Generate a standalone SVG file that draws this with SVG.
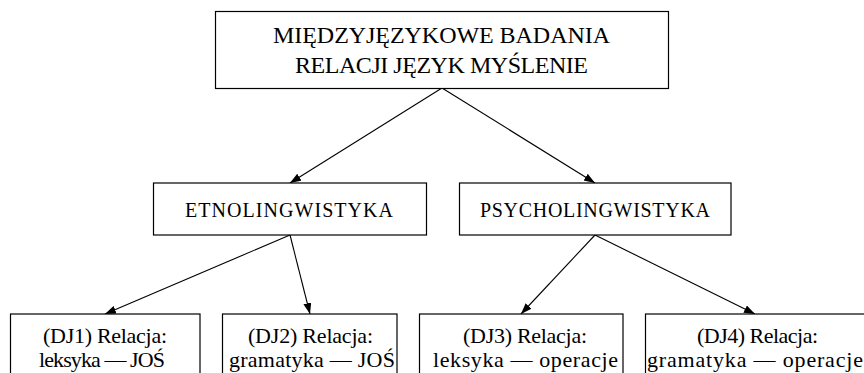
<svg xmlns="http://www.w3.org/2000/svg" width="864" height="373" viewBox="0 0 864 373">
<style>
.box { fill: #fff; stroke: #000; stroke-width: 1.2; }
text { font-family: 'Liberation Serif', 'DejaVu Serif', 'Times New Roman', serif; fill: #000; }
.t { font-size: 24px; }
.m { font-size: 20px; }
.b { font-size: 22px; }
.c { stroke: #000; stroke-width: 1.1; fill: none; marker-end: url(#ah); }
</style>
<defs>
<marker id="ah" markerUnits="userSpaceOnUse" markerWidth="12" markerHeight="9" refX="11" refY="4" orient="auto">
<path d="M0,0 L11,4 L0,8 z" fill="#000"/>
</marker>
</defs>
<rect width="864" height="373" fill="#fff"/>
<g id="connectors">
<line class="c" x1="442" y1="88" x2="290" y2="183"/>
<line class="c" x1="442" y1="88" x2="595" y2="183"/>
<line class="c" x1="290" y1="235" x2="105" y2="314"/>
<line class="c" x1="290" y1="235" x2="310" y2="314"/>
<line class="c" x1="595" y1="235" x2="521" y2="314"/>
<line class="c" x1="595" y1="235" x2="755" y2="314"/>
</g>
<g id="top" font-family="Liberation Serif, serif">
<rect class="box" x="215.5" y="11.5" width="453" height="77"/>
<text class="t" x="273" y="43" textLength="337">MIĘDZYJĘZYKOWE BADANIA</text>
<text class="t" x="295" y="73" textLength="293">RELACJI JĘZYK MYŚLENIE</text>
</g>
<g id="etno">
<rect class="box" x="153.5" y="183" width="273" height="52"/>
<text class="m" x="185" y="216.5" textLength="208">ETNOLINGWISTYKA</text>
</g>
<g id="psycho">
<rect class="box" x="459.5" y="183" width="271.5" height="52"/>
<text class="m" x="480" y="216.5" textLength="230">PSYCHOLINGWISTYKA</text>
</g>
<g id="dj1">
<rect class="box" x="10.5" y="314" width="189.5" height="70"/>
<text class="b" x="43" y="343" textLength="124">(DJ1) Relacja:</text>
<text class="b" x="39" y="367" textLength="126">leksyka — JOŚ</text>
</g>
<g id="dj2">
<rect class="box" x="222.5" y="314" width="174.5" height="70"/>
<text class="b" x="248" y="343" textLength="125">(DJ2) Relacja:</text>
<text class="b" x="229" y="367" textLength="166">gramatyka — JOŚ</text>
</g>
<g id="dj3">
<rect class="box" x="419.5" y="314" width="203.5" height="70"/>
<text class="b" x="463" y="343" textLength="124">(DJ3) Relacja:</text>
<text class="b" x="433" y="367" textLength="185">leksyka — operacje</text>
</g>
<g id="dj4">
<rect class="box" x="645.5" y="314" width="230" height="70"/>
<text class="b" x="697" y="343" textLength="121">(DJ4) Relacja:</text>
<text class="b" x="647" y="367" textLength="216">gramatyka — operacje</text>
</g>
</svg>
